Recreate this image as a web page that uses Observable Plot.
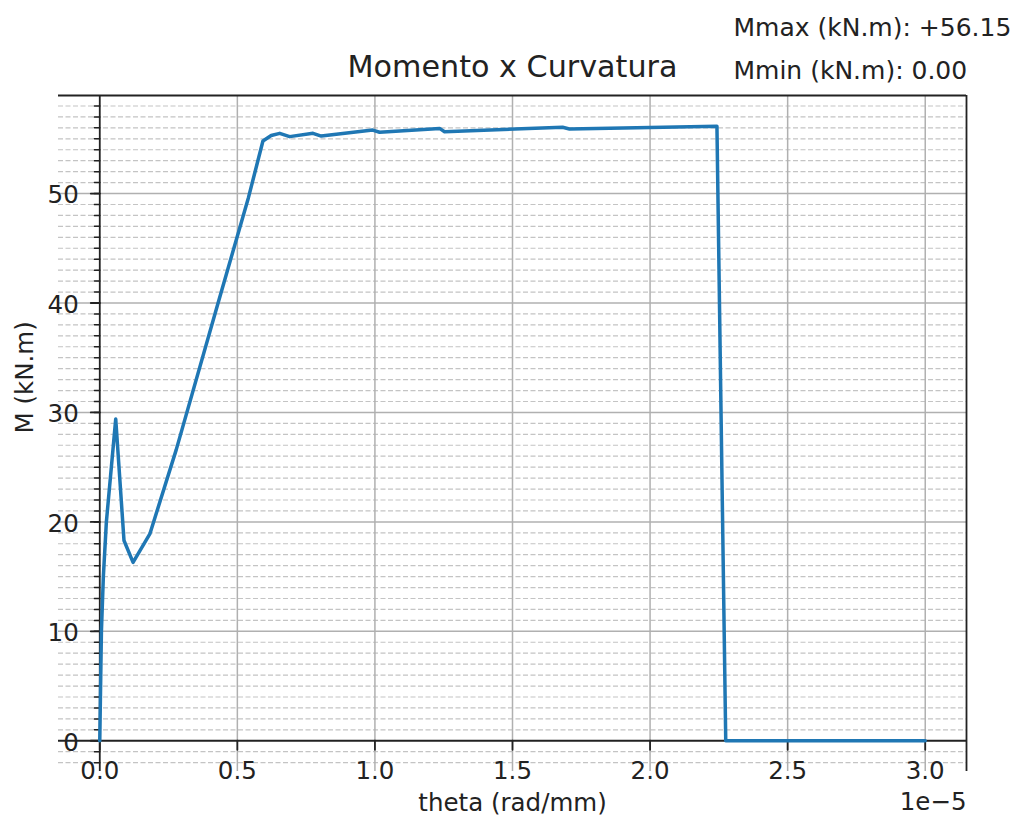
<!DOCTYPE html>
<html>
<head>
<meta charset="utf-8">
<script src="https://cdn.jsdelivr.net/npm/d3@7"></script>
<script src="https://cdn.jsdelivr.net/npm/@observablehq/plot@0.6"></script>
<style>
  html, body { margin: 0; padding: 0; background: #fff; }
  #chart svg { display: block; }
</style>
</head>
<body>
<div id="chart"></div>
<script>
// ---- data (theta in units of 1e-5 rad/mm, M in kN.m) ----
const thetaValues = [0, 0.006, 0.013, 0.024, 0.058, 0.088, 0.121, 0.182, 0.278, 0.43, 0.54, 0.593, 0.623, 0.654, 0.69, 0.775, 0.805, 0.992, 1.017, 1.235, 1.253, 1.682, 1.707, 2.243, 2.275, 3.0];
const momentValues = [0, 10, 15, 20, 29.4, 18.3, 16.3, 18.9, 26.6, 40, 49.6, 54.8, 55.3, 55.5, 55.2, 55.5, 55.25, 55.8, 55.6, 55.95, 55.65, 56.05, 55.9, 56.15, 0, 0];
const xTicks = [0, 0.5, 1.0, 1.5, 2.0, 2.5, 3.0];
const yTicks = [0, 10, 20, 30, 40, 50];
const yMinor = d3.range(-2, 59, 1);
const titleText = "Momento x Curvatura";
const mmaxText = "Mmax (kN.m): +56.15";
const mminText = "Mmin (kN.m): 0.00";
const xLabel = "theta (rad/mm)";
const yLabel = "M (kN.m)";
const xExponent = "1e\u22125";

const curve = thetaValues.map((t, i) => ({theta: t, M: momentValues[i]}));

const xMin = d3.min(thetaValues), xMax = d3.max(thetaValues);
const yMin = d3.min(momentValues), yMax = d3.max(momentValues);
const xPad = (xMax - xMin) * 0.05, yPad = (yMax - yMin) * 0.05;
const xDomain = [xMin - xPad, xMax + xPad];
const yDomain = [yMin - yPad, yMax + yPad];

const tickShape = {draw(c, l) { c.moveTo(0, 0); c.lineTo(0, -l); }};
const font = "DejaVu Sans";
const ink = "#222";

const chart = Plot.plot({
  width: 1016,
  height: 818,
  marginLeft: 58,
  marginRight: 50,
  marginTop: 95,
  marginBottom: 47,
  style: {fontFamily: font, background: "#fff"},
  x: {domain: xDomain, axis: null},
  y: {domain: yDomain, axis: null},
  marks: [
    // minor dashed horizontal grid
    Plot.ruleY(yMinor.filter(v => v % 10 !== 0), {stroke: "#c4c4c4", strokeWidth: 1.2, strokeDasharray: "5,2.5"}),
    // major grid
    Plot.ruleY(yTicks.filter(v => v !== 0), {stroke: "#b0b0b0", strokeWidth: 1.5}),
    Plot.ruleX(xTicks.filter(v => v !== 0), {stroke: "#b0b0b0", strokeWidth: 1.5}),
    // spines
    Plot.ruleY([yDomain[1]], {stroke: ink, strokeWidth: 1.8}),
    Plot.ruleX([xDomain[1]], {stroke: ink, strokeWidth: 1.8}),
    Plot.ruleY([0], {stroke: ink, strokeWidth: 1.8}),
    Plot.ruleX([0], {stroke: ink, strokeWidth: 1.8}),
    // ticks
    Plot.vector(yMinor, {x: 0, y: d => d, length: 5.5, rotate: -90, anchor: "start", shape: tickShape, stroke: ink, strokeWidth: 1.5}),
    Plot.vector(yTicks, {x: 0, y: d => d, length: 9, rotate: -90, anchor: "start", shape: tickShape, stroke: ink, strokeWidth: 1.8}),
    Plot.vector(xTicks, {x: d => d, y: 0, length: 9, rotate: 180, anchor: "start", shape: tickShape, stroke: ink, strokeWidth: 1.8}),
    // tick labels
    Plot.text(yTicks, {x: 0, y: d => d, text: d => String(d), textAnchor: "end", dx: -21, dy: 2, fontSize: 24.5, fill: ink}),
    Plot.text(xTicks, {x: d => d, y: 0, text: d => d.toFixed(1), dy: 30, fontSize: 24.5, fill: ink}),
    // the curve
    Plot.line(curve, {x: "theta", y: "M", stroke: "#1f77b4", strokeWidth: 3.5, strokeLinejoin: "round"}),
    // texts
    Plot.text([xExponent], {frameAnchor: "bottom-right", dy: 31, textAnchor: "end", lineAnchor: "middle", fontSize: 24.5, fill: ink}),
    Plot.text([xLabel], {frameAnchor: "bottom", dy: 32, lineAnchor: "middle", fontSize: 24.5, fill: ink}),
    Plot.text([yLabel], {frameAnchor: "left", dx: -33, rotate: -90, lineAnchor: "middle", fontSize: 24.5, fill: ink}),
    Plot.text([titleText], {frameAnchor: "top", dy: -28, lineAnchor: "middle", fontSize: 30.2, fill: ink}),
    Plot.text([mmaxText], {frameAnchor: "top-left", dx: 675, dy: -68, textAnchor: "start", lineAnchor: "middle", fontSize: 25, fill: ink}),
    Plot.text([mminText], {frameAnchor: "top-left", dx: 675, dy: -25, textAnchor: "start", lineAnchor: "middle", fontSize: 25, fill: ink})
  ]
});
document.getElementById("chart").appendChild(chart);
</script>
</body>
</html>
